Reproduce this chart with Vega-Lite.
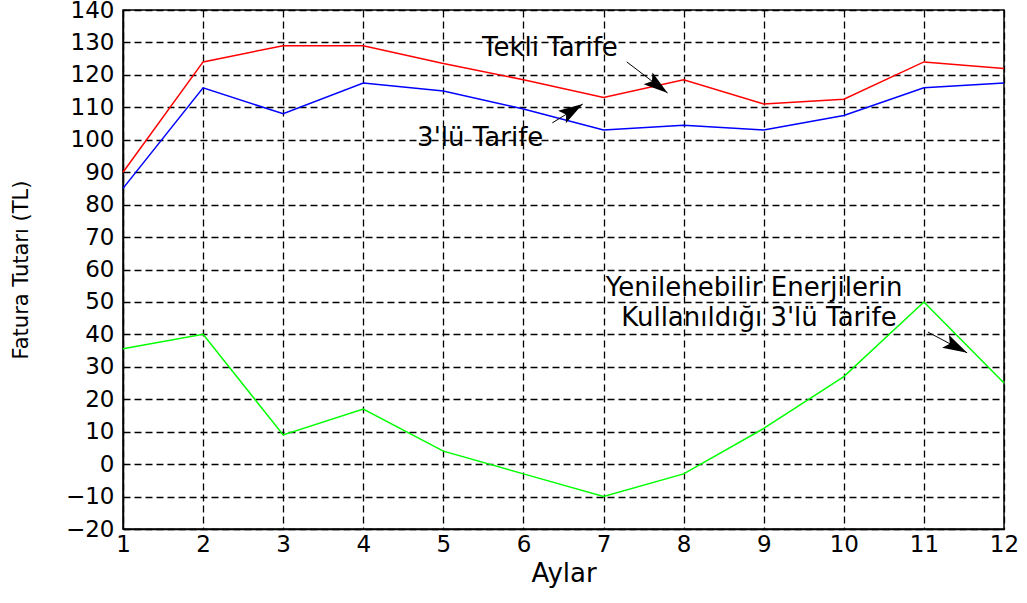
{
  "$schema": "https://vega.github.io/schema/vega-lite/v6.json",
  "width": 881,
  "height": 519,
  "autosize": {"type": "none"},
  "padding": {"left": 123, "top": 10, "right": 23, "bottom": 74},
  "background": "white",
  "config": {
    "font": "DejaVu Sans",
    "view": {"stroke": "black", "strokeWidth": 1.5},
    "axis": {
      "grid": true,
      "gridColor": "black",
      "gridDash": [7, 4],
      "gridWidth": 1.3,
      "gridOpacity": 1,
      "domainColor": "black",
      "domainWidth": 1.5,
      "tickSize": 0,
      "labelColor": "black",
      "labelFont": "DejaVu Sans",
      "labelFontSize": 23,
      "labelOverlap": false,
      "labelFlush": false,
      "titleColor": "black",
      "titleFont": "DejaVu Sans",
      "titleFontWeight": "normal"
    }
  },
  "datasets": {
    "series": [
      {"ay": 1, "tutar": 90, "seri": "Tekli Tarife"},
      {"ay": 2, "tutar": 124, "seri": "Tekli Tarife"},
      {"ay": 3, "tutar": 129, "seri": "Tekli Tarife"},
      {"ay": 4, "tutar": 129, "seri": "Tekli Tarife"},
      {"ay": 5, "tutar": 123.5, "seri": "Tekli Tarife"},
      {"ay": 6, "tutar": 118.5, "seri": "Tekli Tarife"},
      {"ay": 7, "tutar": 113, "seri": "Tekli Tarife"},
      {"ay": 8, "tutar": 118.5, "seri": "Tekli Tarife"},
      {"ay": 9, "tutar": 111, "seri": "Tekli Tarife"},
      {"ay": 10, "tutar": 112.5, "seri": "Tekli Tarife"},
      {"ay": 11, "tutar": 124, "seri": "Tekli Tarife"},
      {"ay": 12, "tutar": 122, "seri": "Tekli Tarife"},
      {"ay": 1, "tutar": 85, "seri": "3'lü Tarife"},
      {"ay": 2, "tutar": 116, "seri": "3'lü Tarife"},
      {"ay": 3, "tutar": 108, "seri": "3'lü Tarife"},
      {"ay": 4, "tutar": 117.5, "seri": "3'lü Tarife"},
      {"ay": 5, "tutar": 115, "seri": "3'lü Tarife"},
      {"ay": 6, "tutar": 109.5, "seri": "3'lü Tarife"},
      {"ay": 7, "tutar": 103, "seri": "3'lü Tarife"},
      {"ay": 8, "tutar": 104.5, "seri": "3'lü Tarife"},
      {"ay": 9, "tutar": 103, "seri": "3'lü Tarife"},
      {"ay": 10, "tutar": 107.5, "seri": "3'lü Tarife"},
      {"ay": 11, "tutar": 116, "seri": "3'lü Tarife"},
      {"ay": 12, "tutar": 117.5, "seri": "3'lü Tarife"},
      {"ay": 1, "tutar": 35.6, "seri": "Yenilenebilir"},
      {"ay": 2, "tutar": 40, "seri": "Yenilenebilir"},
      {"ay": 3, "tutar": 9, "seri": "Yenilenebilir"},
      {"ay": 4, "tutar": 17, "seri": "Yenilenebilir"},
      {"ay": 5, "tutar": 4, "seri": "Yenilenebilir"},
      {"ay": 6, "tutar": -3, "seri": "Yenilenebilir"},
      {"ay": 7, "tutar": -10, "seri": "Yenilenebilir"},
      {"ay": 8, "tutar": -3, "seri": "Yenilenebilir"},
      {"ay": 9, "tutar": 11, "seri": "Yenilenebilir"},
      {"ay": 10, "tutar": 27, "seri": "Yenilenebilir"},
      {"ay": 11, "tutar": 50, "seri": "Yenilenebilir"},
      {"ay": 12, "tutar": 25, "seri": "Yenilenebilir"}
    ],
    "notes": [
      {"x": 6.33, "y": 128.3, "label": "Tekli Tarife"},
      {"x": 5.46, "y": 100.5, "label": "3'lü Tarife"},
      {"x": 8.88, "y": 54.2, "label": "Yenilenebilir Enerjilerin"},
      {"x": 8.94, "y": 45, "label": "Kullanıldığı 3'lü Tarife"}
    ],
    "arrows": [
      {"id": "a", "x": 7.29, "y": 124.0, "x2": 7.8, "y2": 114.4},
      {"id": "b", "x": 6.36, "y": 105.2, "x2": 6.74, "y2": 111.0},
      {"id": "c", "x": 11.05, "y": 40.7, "x2": 11.54, "y2": 34.3}
    ]
  },
  "layer": [
    {
      "data": {"name": "series"},
      "mark": {"type": "line", "strokeWidth": 1.5},
      "encoding": {
        "x": {
          "field": "ay",
          "type": "quantitative",
          "scale": {"domain": [1, 12], "nice": false},
          "axis": {"title": "Aylar", "format": "d", "values": [1, 2, 3, 4, 5, 6, 7, 8, 9, 10, 11, 12], "titleFontSize": 26, "labelPadding": 4, "titlePadding": 4}
        },
        "y": {
          "field": "tutar",
          "type": "quantitative",
          "scale": {"domain": [-20, 140], "nice": false},
          "axis": {"title": "Fatura Tutarı (TL)", "format": "d", "values": [-20, -10, 0, 10, 20, 30, 40, 50, 60, 70, 80, 90, 100, 110, 120, 130, 140], "titleFontSize": 21, "labelPadding": 9, "titlePadding": 34}
        },
        "color": {
          "field": "seri",
          "type": "nominal",
          "scale": {"domain": ["Tekli Tarife", "3'lü Tarife", "Yenilenebilir"], "range": ["#ff0000", "#0000ff", "#00ff00"]},
          "legend": null
        }
      }
    },
    {
      "data": {"name": "notes"},
      "mark": {"type": "text", "fontSize": 26, "font": "DejaVu Sans", "color": "black", "align": "center", "baseline": "middle"},
      "encoding": {
        "x": {"field": "x", "type": "quantitative", "axis": {"title": "Aylar", "format": "d", "values": [1, 2, 3, 4, 5, 6, 7, 8, 9, 10, 11, 12], "titleFontSize": 26, "labelPadding": 4, "titlePadding": 4}},
        "y": {"field": "y", "type": "quantitative", "axis": {"title": "Fatura Tutarı (TL)", "format": "d", "values": [-20, -10, 0, 10, 20, 30, 40, 50, 60, 70, 80, 90, 100, 110, 120, 130, 140], "titleFontSize": 21, "labelPadding": 9, "titlePadding": 34}},
        "text": {"field": "label"}
      }
    },
    {
      "data": {"name": "arrows"},
      "mark": {"type": "rule", "color": "black", "strokeWidth": 1},
      "encoding": {
        "x": {"field": "x", "type": "quantitative", "axis": {"title": "Aylar", "format": "d", "values": [1, 2, 3, 4, 5, 6, 7, 8, 9, 10, 11, 12], "titleFontSize": 26, "labelPadding": 4, "titlePadding": 4}},
        "y": {"field": "y", "type": "quantitative", "axis": {"title": "Fatura Tutarı (TL)", "format": "d", "values": [-20, -10, 0, 10, 20, 30, 40, 50, 60, 70, 80, 90, 100, 110, 120, 130, 140], "titleFontSize": 21, "labelPadding": 9, "titlePadding": 34}},
        "x2": {"field": "x2"},
        "y2": {"field": "y2"}
      }
    },
    {
      "data": {"name": "arrows"},
      "transform": [{"filter": "datum.id == 'a'"}],
      "mark": {"type": "point", "shape": "M0,0L-0.6,2L0,1.6L0.6,2Z", "filled": true, "color": "black", "opacity": 1, "size": 600, "angle": 127},
      "encoding": {
        "x": {"field": "x2", "type": "quantitative", "axis": {"title": "Aylar", "format": "d", "values": [1, 2, 3, 4, 5, 6, 7, 8, 9, 10, 11, 12], "titleFontSize": 26, "labelPadding": 4, "titlePadding": 4}},
        "y": {"field": "y2", "type": "quantitative", "axis": {"title": "Fatura Tutarı (TL)", "format": "d", "values": [-20, -10, 0, 10, 20, 30, 40, 50, 60, 70, 80, 90, 100, 110, 120, 130, 140], "titleFontSize": 21, "labelPadding": 9, "titlePadding": 34}}
      }
    },
    {
      "data": {"name": "arrows"},
      "transform": [{"filter": "datum.id == 'b'"}],
      "mark": {"type": "point", "shape": "M0,0L-0.6,2L0,1.6L0.6,2Z", "filled": true, "color": "black", "opacity": 1, "size": 600, "angle": 58},
      "encoding": {
        "x": {"field": "x2", "type": "quantitative", "axis": {"title": "Aylar", "format": "d", "values": [1, 2, 3, 4, 5, 6, 7, 8, 9, 10, 11, 12], "titleFontSize": 26, "labelPadding": 4, "titlePadding": 4}},
        "y": {"field": "y2", "type": "quantitative", "axis": {"title": "Fatura Tutarı (TL)", "format": "d", "values": [-20, -10, 0, 10, 20, 30, 40, 50, 60, 70, 80, 90, 100, 110, 120, 130, 140], "titleFontSize": 21, "labelPadding": 9, "titlePadding": 34}}
      }
    },
    {
      "data": {"name": "arrows"},
      "transform": [{"filter": "datum.id == 'c'"}],
      "mark": {"type": "point", "shape": "M0,0L-0.6,2L0,1.6L0.6,2Z", "filled": true, "color": "black", "opacity": 1, "size": 600, "angle": 118},
      "encoding": {
        "x": {"field": "x2", "type": "quantitative", "axis": {"title": "Aylar", "format": "d", "values": [1, 2, 3, 4, 5, 6, 7, 8, 9, 10, 11, 12], "titleFontSize": 26, "labelPadding": 4, "titlePadding": 4}},
        "y": {"field": "y2", "type": "quantitative", "axis": {"title": "Fatura Tutarı (TL)", "format": "d", "values": [-20, -10, 0, 10, 20, 30, 40, 50, 60, 70, 80, 90, 100, 110, 120, 130, 140], "titleFontSize": 21, "labelPadding": 9, "titlePadding": 34}}
      }
    }
  ]
}
